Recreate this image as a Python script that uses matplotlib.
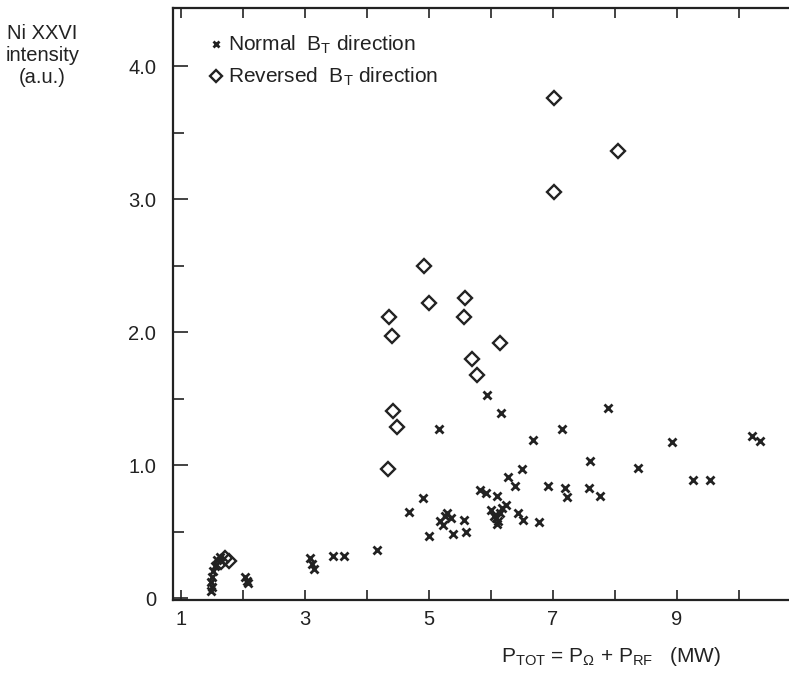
import matplotlib
matplotlib.use("Agg")
import matplotlib.pyplot as plt
from matplotlib.ticker import MultipleLocator, FixedLocator, FixedFormatter

plt.rcParams['font.family'] = ['Liberation Sans', 'DejaVu Sans']
plt.rcParams['mathtext.fontset'] = 'custom'
plt.rcParams['mathtext.rm'] = 'Liberation Sans'
plt.rcParams['mathtext.it'] = 'Liberation Sans:italic'

# normal B_T direction (x marks)
normal_p = [1.48, 1.50, 1.49, 1.51, 1.52, 1.55, 1.58, 1.63,
            2.03, 2.06, 2.08, 3.08, 3.11, 3.14, 3.45, 3.63, 4.16,
            4.68, 4.90, 5.00, 5.18, 5.22, 5.26, 5.30, 5.35, 5.39, 5.56, 5.60,
            5.16, 5.94, 6.16, 5.82, 5.92, 6.10, 6.24,
            6.00, 6.05, 6.08, 6.12, 6.15, 6.18, 6.10,
            6.27, 6.39, 6.50, 6.44, 6.52, 6.68, 6.77,
            6.92, 7.15, 7.19, 7.23, 7.58, 7.76, 7.60,
            7.89, 8.37, 8.92, 9.26, 9.53, 10.21, 10.34]
normal_i = [0.05, 0.08, 0.12, 0.16, 0.20, 0.24, 0.29, 0.31,
            0.16, 0.13, 0.11, 0.30, 0.26, 0.22, 0.32, 0.32, 0.36,
            0.65, 0.75, 0.47, 0.58, 0.55, 0.62, 0.64, 0.60, 0.48, 0.59, 0.50,
            1.27, 1.53, 1.39, 0.81, 0.79, 0.77, 0.70,
            0.66, 0.62, 0.60, 0.58, 0.64, 0.68, 0.56,
            0.91, 0.84, 0.97, 0.64, 0.59, 1.19, 0.57,
            0.84, 1.27, 0.83, 0.76, 0.83, 0.77, 1.03,
            1.43, 0.98, 1.17, 0.89, 0.89, 1.22, 1.18]

# reversed B_T direction (diamonds)
rev_p = [1.65, 1.72, 1.78, 4.34, 4.42, 4.48, 4.35, 4.40, 4.92, 5.00,
         5.56, 5.58, 5.69, 5.77, 6.15, 7.02, 7.02, 8.05]
rev_i = [0.27, 0.30, 0.28, 0.97, 1.41, 1.29, 2.11, 1.97, 2.50, 2.22,
         2.11, 2.26, 1.80, 1.68, 1.92, 3.76, 3.05, 3.36]

x_ticks = [1, 2, 3, 4, 5, 6, 7, 8, 9, 10]
x_labels = ['1', '', '3', '', '5', '', '7', '', '9', '']
y_ticks = [0, 1, 2, 3, 4]
y_labels = ['0', '1.0', '2.0', '3.0', '4.0']

ink = '#222222'

fig = plt.figure(figsize=(7.89, 6.75), dpi=100)
ax = fig.add_axes([0.219, 0.111, 0.781, 0.877])

ax.plot(normal_p, normal_i, linestyle='none', marker='x', markersize=6,
        mew=2.0, color=ink, label=r'Normal  $\mathrm{B_T}$ direction')
ax.plot(rev_p, rev_i, linestyle='none', marker='D', markersize=7.5,
        mfc='none', mec=ink, mew=1.7, label=r'Reversed  $\mathrm{B_T}$ direction')

ax.set_xlim(0.871, 10.806)
ax.set_ylim(-0.015, 4.436)

ax.xaxis.set_major_locator(FixedLocator(x_ticks))
ax.xaxis.set_major_formatter(FixedFormatter(x_labels))
ax.yaxis.set_major_locator(FixedLocator(y_ticks))
ax.yaxis.set_major_formatter(FixedFormatter(y_labels))
ax.yaxis.set_minor_locator(MultipleLocator(0.5))

ax.tick_params(axis='x', direction='in', top=True, length=7, width=1.2,
               labelsize=14.5, colors=ink, pad=7)
ax.tick_params(axis='y', direction='in', length=11, width=1.2,
               labelsize=14.5, colors=ink, pad=12)
ax.tick_params(axis='y', which='minor', direction='in', length=8, width=1.2,
               colors=ink)

ax.spines['right'].set_visible(False)
for s in ['left', 'top', 'bottom']:
    ax.spines[s].set_linewidth(1.6)
    ax.spines[s].set_color(ink)

ax.legend(loc='upper left', bbox_to_anchor=(0.045, 0.97), frameon=False,
          fontsize=15, handletextpad=0.2, handlelength=0.7, labelspacing=0.45,
          borderaxespad=0, labelcolor=ink, markerscale=0.8)

fig.text(0.054, 0.965, 'Ni XXVI\nintensity\n(a.u.)', ha='center', va='top',
         fontsize=14.5, color=ink, linespacing=1.2)
fig.text(0.775, 0.028, r'$\mathrm{P_{TOT}}$ = $\mathrm{P_{\Omega}}$ + $\mathrm{P_{RF}}$   (MW)',
         ha='center', va='center', fontsize=15, color=ink)

fig.savefig('out.png', dpi=100)
